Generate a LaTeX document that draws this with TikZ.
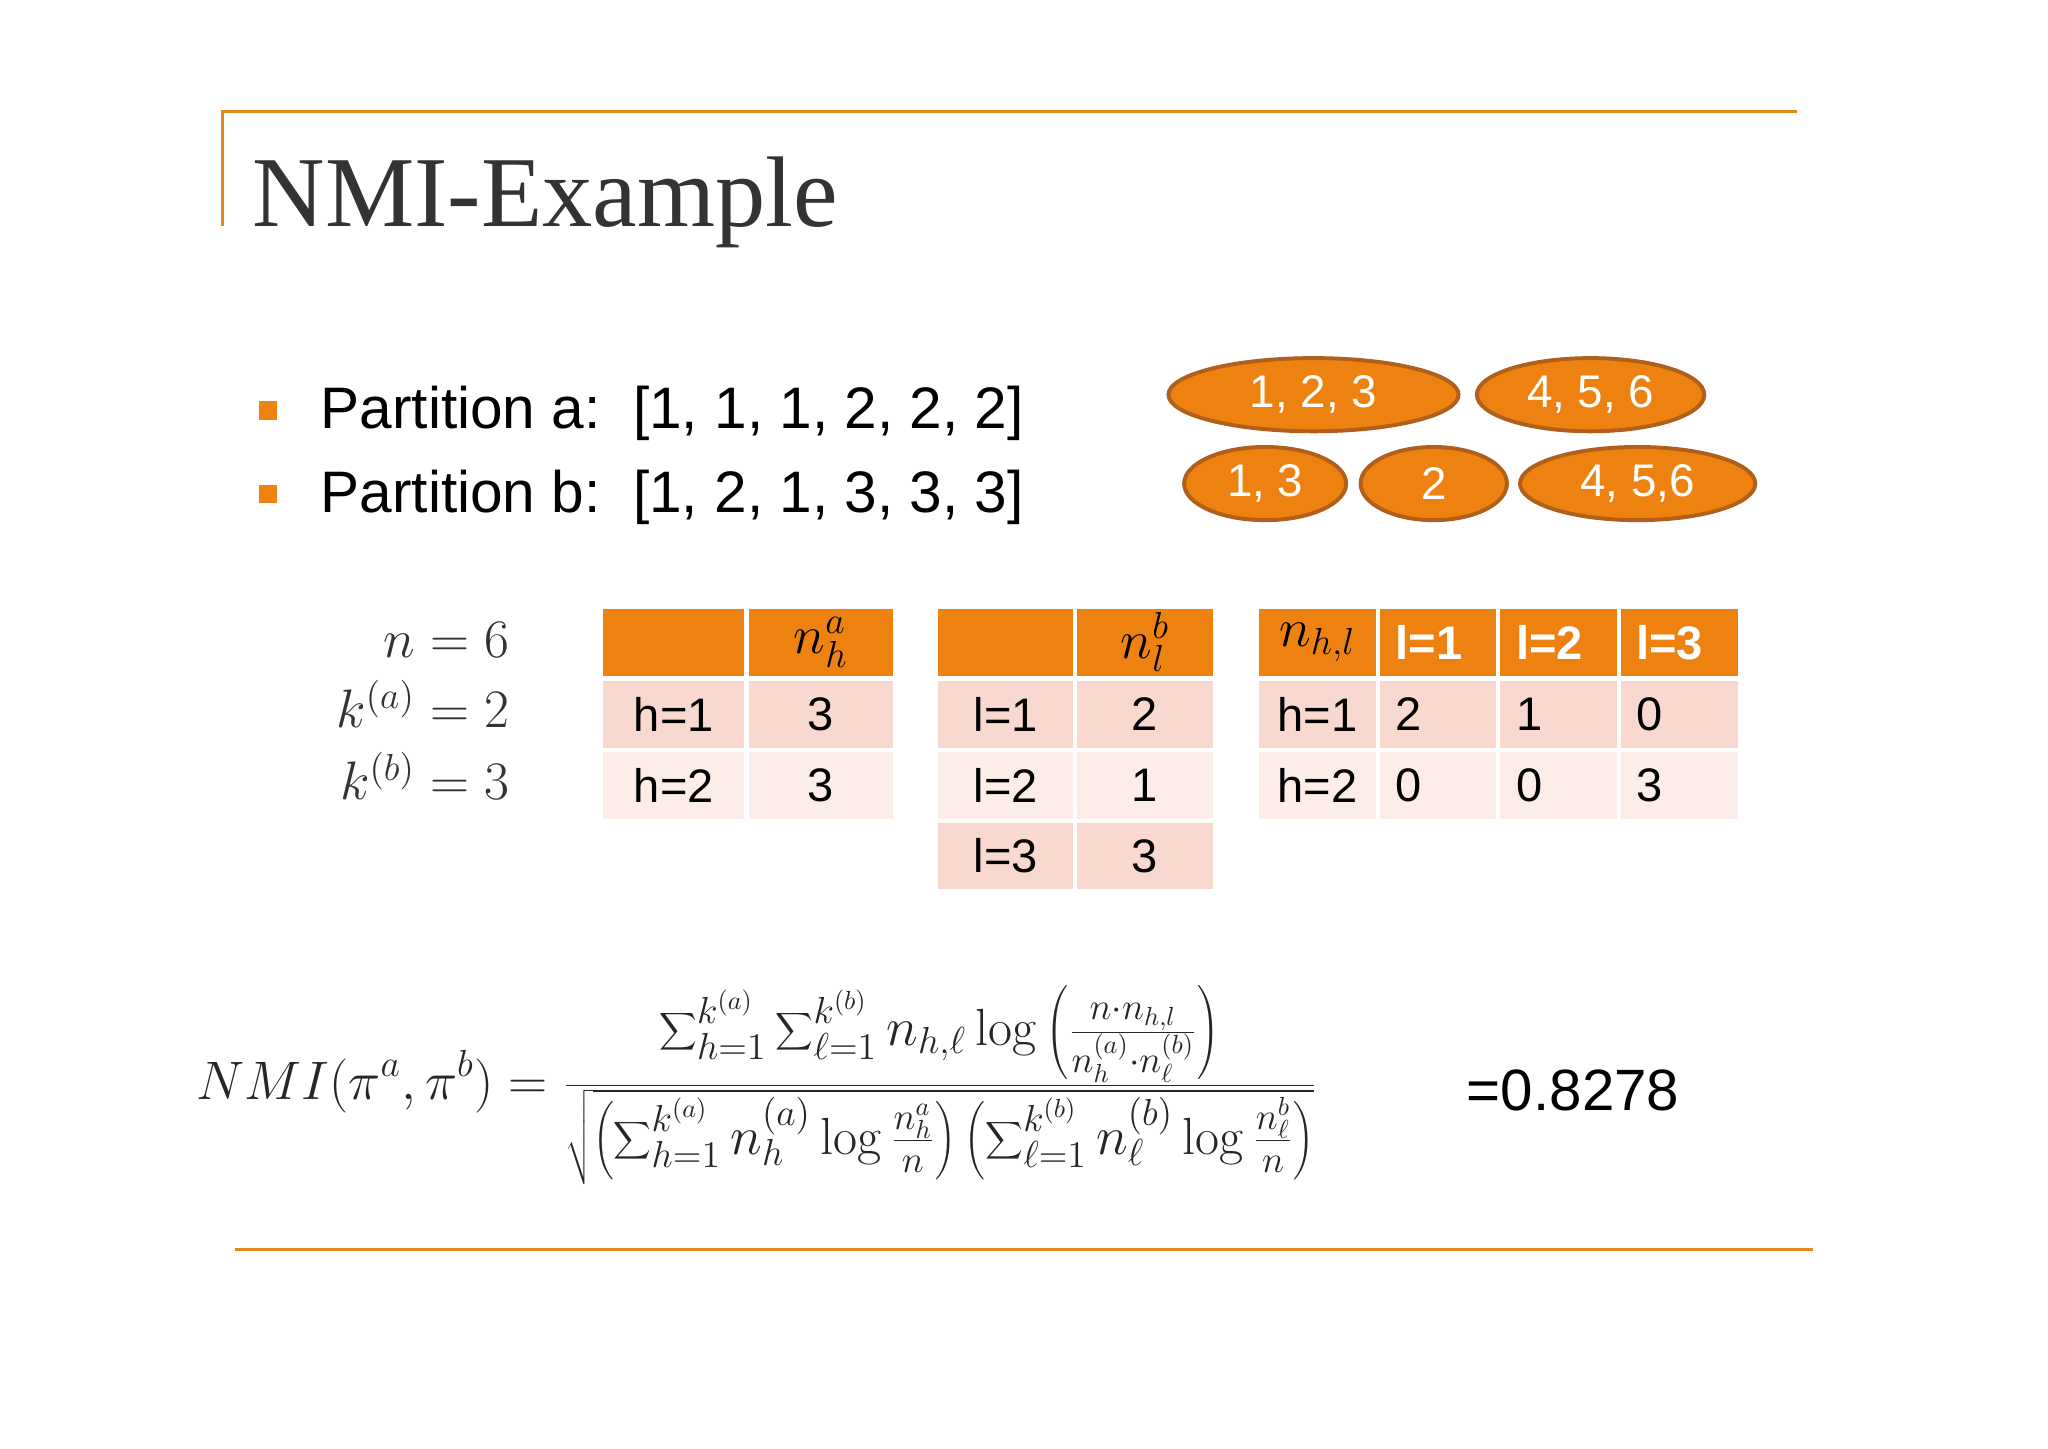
\documentclass[tikz,border=0pt]{standalone}
\usepackage{fontspec}
\newfontfamily\sanf{Liberation Sans}
\newfontfamily\titlefont{Liberation Serif}
\usetikzlibrary{shapes.geometric}
\definecolor{orng}{HTML}{EE8211}
\definecolor{orline}{HTML}{E8861A}
\definecolor{ordark}{HTML}{B0601A}
\definecolor{rowa}{HTML}{F9D8D0}
\definecolor{rowb}{HTML}{FCEDE9}
\begin{document}
\begin{tikzpicture}[x=0.5pt,y=-0.5pt,
  cell/.style={rectangle,inner sep=0pt,draw=none},
  ctext/.style={font=\sanf\fontsize{18}{20}\selectfont,inner sep=0pt},
  htext/.style={font=\sanf\fontsize{18}{20}\selectfont\bfseries,text=white,inner sep=0pt},
  blob/.style={ellipse,fill=orng,draw=ordark,line width=1.5pt,inner sep=0pt,minimum height=28pt,text=white,font=\sanf\fontsize{17.5}{20}\selectfont},
  rule/.style={draw=orline,line width=1.2pt},
  lmath/.style={font=\fontsize{20}{22}\selectfont,anchor=base east,inner sep=0pt,text=black!80}]
\useasboundingbox (0,0) rectangle (1567,1108);
\fill[white] (0,0) rectangle (1567,1108);
% frame lines
\coordinate (tl) at (170,85); \coordinate (tr) at (1375,85); \coordinate (tb) at (170,173);
\draw[rule] (tb) -- (tl) -- (tr);
\coordinate (bl) at (180,956); \coordinate (br) at (1387,956);
\draw[rule] (bl) -- (br);
% title
\node[anchor=base west,inner sep=0pt,font=\titlefont\fontsize{38.4}{42}\selectfont,text=black!80] (title) at (193,173) {NMI-Example};
% bullets
\node[fill=orng,minimum size=7pt,inner sep=0pt] (b1) at (205,314) {};
\node[fill=orng,minimum size=7pt,inner sep=0pt] (b2) at (205,378) {};
\node[anchor=base west,inner sep=0pt,font=\sanf\fontsize{22.4}{26}\selectfont] (pa) at (245,328) {Partition a:\ \ [1, 1, 1, 2, 2, 2]};
\node[anchor=base west,inner sep=0pt,font=\sanf\fontsize{22.4}{26}\selectfont] (pb) at (245,392) {Partition b:\ \ [1, 2, 1, 3, 3, 3]};
% ellipses
\node[blob,minimum width=111pt] (e1) at (1005,302) {1, 2, 3};
\node[blob,minimum width=87pt] (e2) at (1217,302) {4, 5, 6};
\node[blob,minimum width=62pt] (e3) at (968,370) {1, 3};
\node[blob,minimum width=56pt] (e4) at (1097,370) {2};
\node[blob,minimum width=90pt] (e5) at (1253,370) {4, 5,6};
% left math
\node[lmath] (m1) at (390,503) {$n=6$};
\node[lmath] (m2) at (390,557) {$k^{(a)}=2$};
\node[lmath] (m3) at (390,612) {$k^{(b)}=3$};
% table 1
\foreach \nm/\cx/\w in {a/515.5/108, b/628/110}{
  \node[cell,fill=orng,minimum width=\w*0.5pt,minimum height=25.5pt] (t1h\nm) at (\cx,491.5) {};
  \node[cell,fill=rowa,minimum width=\w*0.5pt,minimum height=25.5pt] (t1r\nm) at (\cx,546.5) {};
  \node[cell,fill=rowb,minimum width=\w*0.5pt,minimum height=25.5pt] (t1s\nm) at (\cx,601) {};
}
\node[font=\fontsize{21}{22}\selectfont,inner sep=0pt] at (t1hb) {$n_h^a$};
\node[ctext] at (t1ra) {h=1}; \node[ctext] at (t1rb) {3};
\node[ctext] at (t1sa) {h=2}; \node[ctext] at (t1sb) {3};
% table 2
\foreach \nm/\cx/\w in {a/769.5/103, b/876/104}{
  \node[cell,fill=orng,minimum width=\w*0.5pt,minimum height=25.5pt] (t2h\nm) at (\cx,491.5) {};
  \node[cell,fill=rowa,minimum width=\w*0.5pt,minimum height=25.5pt] (t2r\nm) at (\cx,546.5) {};
  \node[cell,fill=rowb,minimum width=\w*0.5pt,minimum height=25.5pt] (t2s\nm) at (\cx,601) {};
  \node[cell,fill=rowa,minimum width=\w*0.5pt,minimum height=25.5pt] (t2t\nm) at (\cx,655) {};
}
\node[font=\fontsize{21}{22}\selectfont,inner sep=0pt] at (t2hb) {$n_l^b$};
\node[ctext] at (t2ra) {l=1}; \node[ctext] at (t2rb) {2};
\node[ctext] at (t2sa) {l=2}; \node[ctext] at (t2sb) {1};
\node[ctext] at (t2ta) {l=3}; \node[ctext] at (t2tb) {3};
% table 3
\foreach \nm/\cx/\w in {a/1008/90, b/1100.5/89, c/1192.5/89, d/1285/90}{
  \node[cell,fill=orng,minimum width=\w*0.5pt,minimum height=25.5pt] (t3h\nm) at (\cx,491.5) {};
  \node[cell,fill=rowa,minimum width=\w*0.5pt,minimum height=25.5pt] (t3r\nm) at (\cx,546.5) {};
  \node[cell,fill=rowb,minimum width=\w*0.5pt,minimum height=25.5pt] (t3s\nm) at (\cx,601) {};
}
\node[font=\fontsize{21}{22}\selectfont,inner sep=0pt] at (t3ha) {$n_{h,l}$};
\node[htext,anchor=west] at ([xshift=6pt]t3hb.west) {l=1};
\node[htext,anchor=west] at ([xshift=6pt]t3hc.west) {l=2};
\node[htext,anchor=west] at ([xshift=6pt]t3hd.west) {l=3};
\node[ctext] at (t3ra) {h=1};
\node[ctext,anchor=west] at ([xshift=6pt]t3rb.west) {2};
\node[ctext,anchor=west] at ([xshift=6pt]t3rc.west) {1};
\node[ctext,anchor=west] at ([xshift=6pt]t3rd.west) {0};
\node[ctext] at (t3sa) {h=2};
\node[ctext,anchor=west] at ([xshift=6pt]t3sb.west) {0};
\node[ctext,anchor=west] at ([xshift=6pt]t3sc.west) {0};
\node[ctext,anchor=west] at ([xshift=6pt]t3sd.west) {3};
% formula
\node[anchor=west,inner sep=0pt,font=\fontsize{20}{24}\selectfont,text=black!85] (nmi) at (150,830)
 {$\displaystyle NMI(\pi^a,\pi^b)=\frac{\displaystyle\sum\nolimits_{h=1}^{k^{(a)}}\sum\nolimits_{\ell=1}^{k^{(b)}} n_{h,\ell}\log\left(\textstyle\frac{n\cdot n_{h,l}}{n_h^{(a)}\cdot n_\ell^{(b)}}\right)}{\sqrt{\left(\displaystyle\sum\nolimits_{h=1}^{k^{(a)}} n_h^{(a)}\log\textstyle\frac{n_h^a}{n}\right)\left(\displaystyle\sum\nolimits_{\ell=1}^{k^{(b)}} n_\ell^{(b)}\log\textstyle\frac{n_\ell^b}{n}\right)}}$};
\node[anchor=base west,inner sep=0pt,font=\sanf\fontsize{22.3}{26}\selectfont] (val) at (1122,850) {=0.8278};
\end{tikzpicture}
\end{document}
